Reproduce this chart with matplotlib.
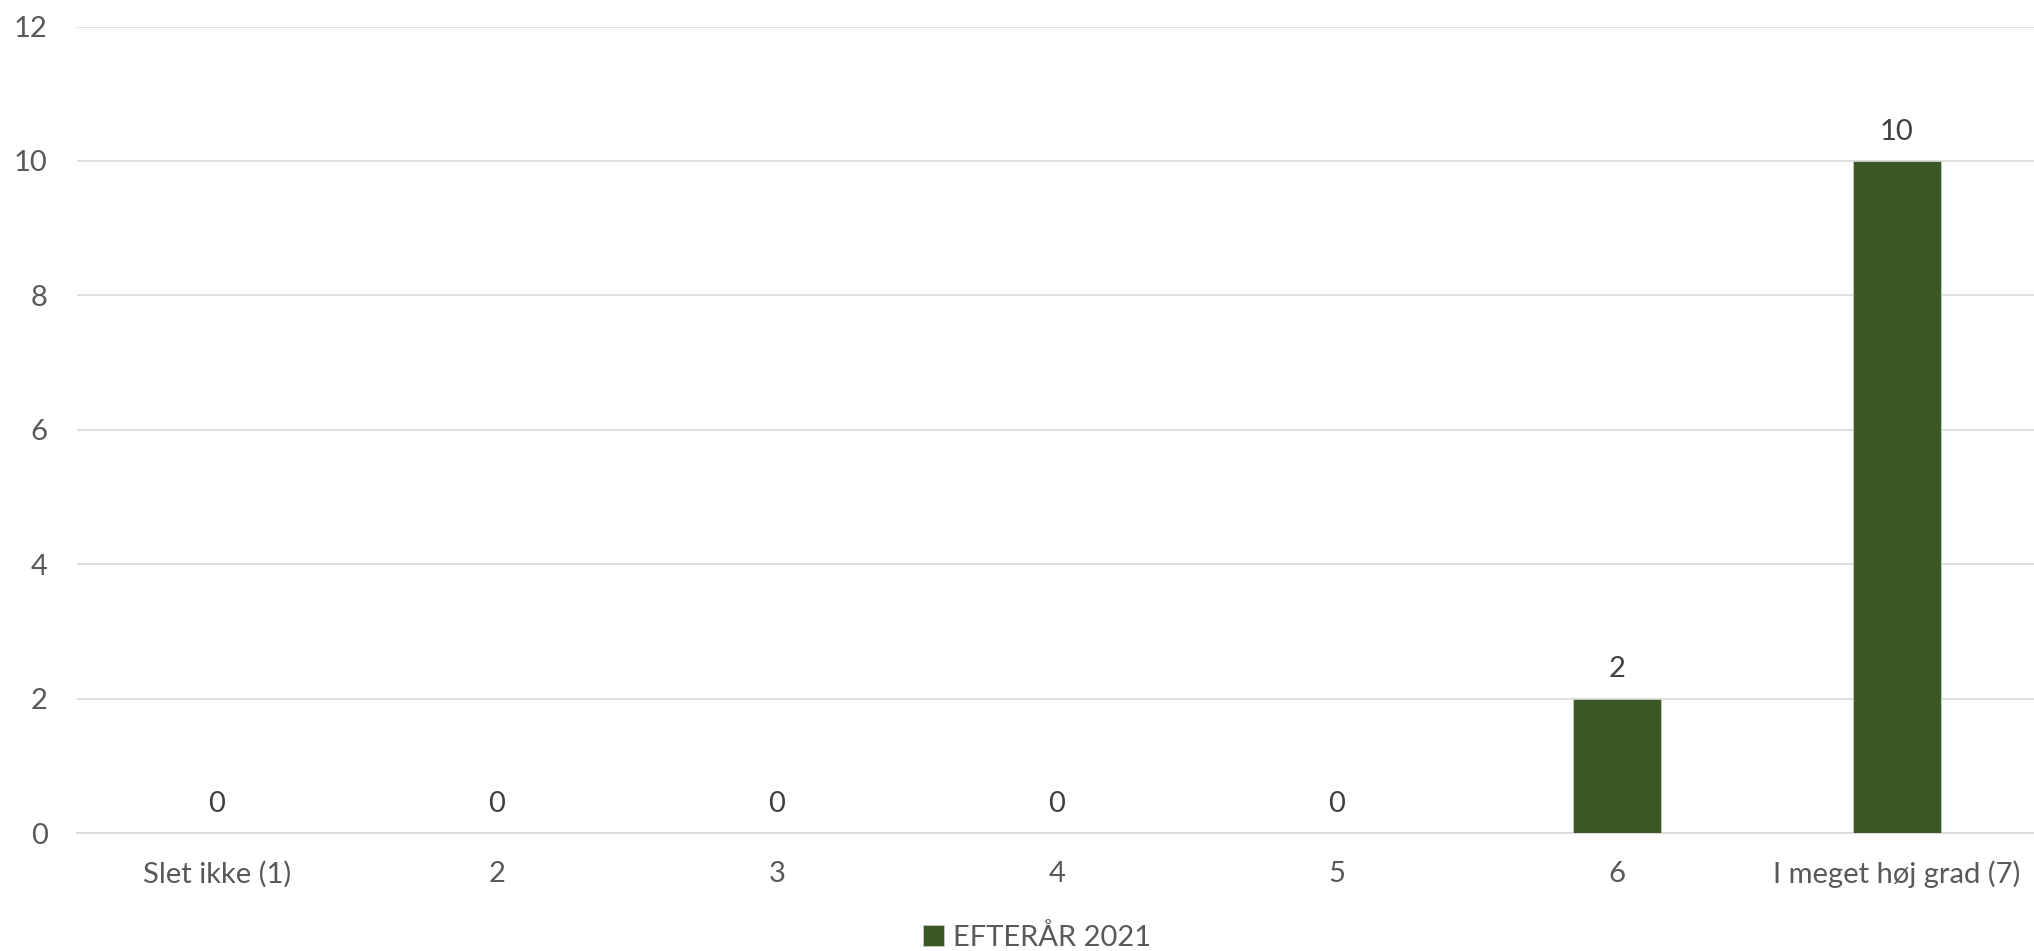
import matplotlib.pyplot as plt

categories = ["Slet ikke (1)", "2", "3", "4", "5", "6", "I meget høj grad (7)"]
values = [0, 0, 0, 0, 0, 2, 10]
series_name = "EFTERÅR 2021"
y_ticks = [0, 2, 4, 6, 8, 10, 12]

bar_color = "#3B5724"
grid_color = "#D9D9D9"
text_color = "#595959"

plt.rcParams.update({
    "font.family": ["Lato", "DejaVu Sans"],
    "font.size": 21,
})

W, H = 2034, 951
fig = plt.figure(figsize=(W / 100, H / 100), dpi=100)
ax = fig.add_axes([77 / W, (H - 833) / H, 1960 / W, (833 - 26.5) / H])

x = range(len(categories))
bars = ax.bar(x, values, width=0.314, color=bar_color, edgecolor="#C8D0C0",
              linewidth=0.6, label=series_name, zorder=3)

for xi, v in zip(x, values):
    ax.annotate(str(v), (xi, v), xytext=(0, 21), textcoords="offset points",
                ha="center", va="center", color="#404040", fontsize=21)

ax.set_xlim(-0.5, len(categories) - 0.5)
ax.set_ylim(0, 12)
ax.set_yticks(y_ticks)
ax.set_xticks(list(x))
ax.set_xticklabels(categories)
ax.yaxis.grid(True, color=grid_color, linewidth=1.2, zorder=0)
ax.set_axisbelow(True)
for s in ["top", "right", "left"]:
    ax.spines[s].set_visible(False)
ax.spines["bottom"].set_color(grid_color)
ax.spines["bottom"].set_linewidth(1.2)
ax.tick_params(axis="both", length=0, colors=text_color, labelsize=21)
ax.tick_params(axis="x", pad=20)
ax.tick_params(axis="y", pad=21)

fig.legend(handles=[bars], labels=[series_name], loc="center",
           bbox_to_anchor=(1037 / W, (H - 937) / H), frameon=False,
           handlelength=0.7, handleheight=0.7, handletextpad=0.3,
           labelcolor=text_color, fontsize=21)

fig.savefig("out.png", dpi=100)
